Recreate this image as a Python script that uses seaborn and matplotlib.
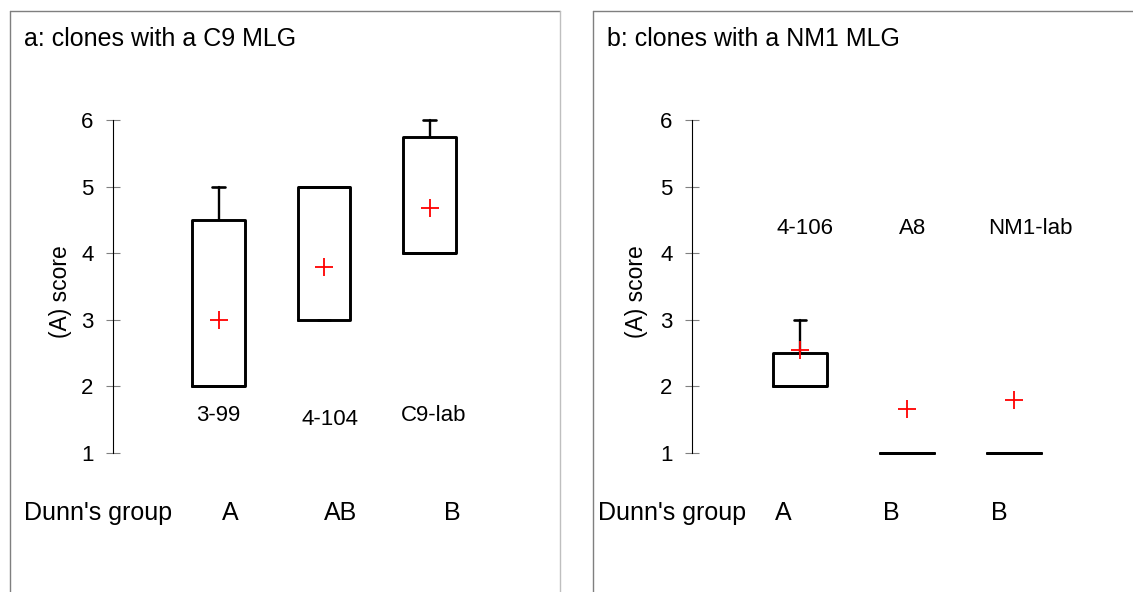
import numpy as np
import matplotlib
matplotlib.use('Agg')
import matplotlib.pyplot as plt
from matplotlib.lines import Line2D
import seaborn as sns

# ------------------------
# Data
# ------------------------
clones_a = ["3-99", "4-104", "C9-lab"]
groups_a = ["A", "AB", "B"]
q1_a = [2.0, 3.0, 4.0]
med_a = [2.0, 5.0, 4.0]
q3_a = [4.5, 5.0, 5.75]
low_a = [2.0, 3.0, 4.0]
high_a = [5.0, 5.0, 6.0]
mean_a = [3.0, 3.8, 4.68]

clones_b = ["4-106", "A8", "NM1-lab"]
groups_b = ["A", "B", "B"]
q1_b = [2.0, 1.0, 1.0]
med_b = [2.0, 1.0, 1.0]
q3_b = [2.5, 1.0, 1.0]
low_b = [2.0, 1.0, 1.0]
high_b = [3.0, 1.0, 1.0]
mean_b = [2.54, 1.66, 1.80]

y_ticks = [1, 2, 3, 4, 5, 6]

# ------------------------
# Style
# ------------------------
sns.set_style("white")
plt.rcParams['font.family'] = ['Liberation Sans', 'DejaVu Sans']
plt.rcParams['text.color'] = 'black'

W, H = 1133, 592
fig = plt.figure(figsize=(W / 100, H / 100), dpi=100)


def px(x, y):
    # pixel coords (top-left origin) -> figure fraction
    return x / W, 1 - y / H


def panel(left_px, unit_px, q1, med, q3, low, high, means, xmin):
    x0, _ = px(left_px, 0)
    ax = fig.add_axes([x0, 0.1785, (2.8 - xmin) * unit_px / W, 0.675])
    pos = np.arange(len(q1))
    stats = [dict(q1=a, med=m, q3=b, whislo=lo, whishi=hi, fliers=[])
             for a, m, b, lo, hi in zip(q1, med, q3, low, high)]
    ax.bxp(stats, positions=pos, widths=0.5, capwidths=0.115, showfliers=False,
           boxprops=dict(color='black', linewidth=2.1),
           medianprops=dict(color='black', linewidth=2.1),
           whiskerprops=dict(color='black', linewidth=1.7),
           capprops=dict(color='black', linewidth=1.9),
           manage_ticks=False)
    sns.scatterplot(x=pos, y=means, marker='+', color='red', s=150,
                    linewidth=1.3, ax=ax, zorder=5)
    ax.set_xlim(xmin, 2.8)
    ax.set_ylim(0.5, 6.5)
    ax.set_yticks(y_ticks)
    ax.set_xticks([])
    for s in ['top', 'right', 'bottom']:
        ax.spines[s].set_visible(False)
    ax.spines['left'].set_bounds(1, 6)
    ax.spines['left'].set_color('black')
    ax.spines['left'].set_linewidth(0.8)
    ax.tick_params(axis='y', direction='inout', length=10, width=0.8,
                   color='#808080', labelcolor='black', labelsize=16, pad=9,
                   left=True)
    ax.patch.set_alpha(0)
    return ax


ax_a = panel(113, 105.5, q1_a, med_a, q3_a, low_a, high_a, mean_a, -1.0)
ax_b = panel(692, 107, q1_b, med_b, q3_b, low_b, high_b, mean_b, -1.01)

# clone labels
for i, lab in enumerate(clones_a):
    yy = 1.5 if lab == "4-104" else 1.56
    ax_a.text(i + (0.06 if i == 1 else 0.04 * (i == 2)), yy, lab,
              ha='center', va='center', fontsize=16)
for i, lab in enumerate(clones_b):
    ax_b.text(i + 0.05 + 0.1 * (i == 2), 4.37, lab, ha='center', va='center',
              fontsize=16)

# titles and group rows
fig.text(*px(24, 39), "a: clones with a C9 MLG", ha='left', va='center', fontsize=18)
fig.text(*px(607, 39), "b: clones with a NM1 MLG", ha='left', va='center', fontsize=18)

fig.text(*px(24, 513), "Dunn's group", ha='left', va='center', fontsize=18)
fig.text(*px(598, 513), "Dunn's group", ha='left', va='center', fontsize=18)
for xp, g in zip([230, 341, 452], groups_a):
    fig.text(*px(xp, 513), g, ha='center', va='center', fontsize=18)
for xp, g in zip([783, 891, 999], groups_b):
    fig.text(*px(xp, 513), g, ha='center', va='center', fontsize=18)

# y labels
fig.text(*px(60, 292), "(A) score", rotation=90, ha='center', va='center', fontsize=16.5)
fig.text(*px(637, 292), "(A) score", rotation=90, ha='center', va='center', fontsize=16.5)

# panel borders
def fline(xs, ys, color):
    fx = [x / W for x in xs]
    fy = [1 - y / H for y in ys]
    fig.add_artist(Line2D(fx, fy, color=color, linewidth=1.0))

fline([10.5, 10.5], [10.5, 600], '#7f7f7f')
fline([10.5, 560], [10.5, 10.5], '#7f7f7f')
fline([560, 560], [10.5, 600], '#bfbfbf')
fline([593, 593], [10.5, 600], '#7f7f7f')
fline([593, 1140], [10.5, 10.5], '#7f7f7f')

plt.savefig("out.png", dpi=100)
plt.close()
